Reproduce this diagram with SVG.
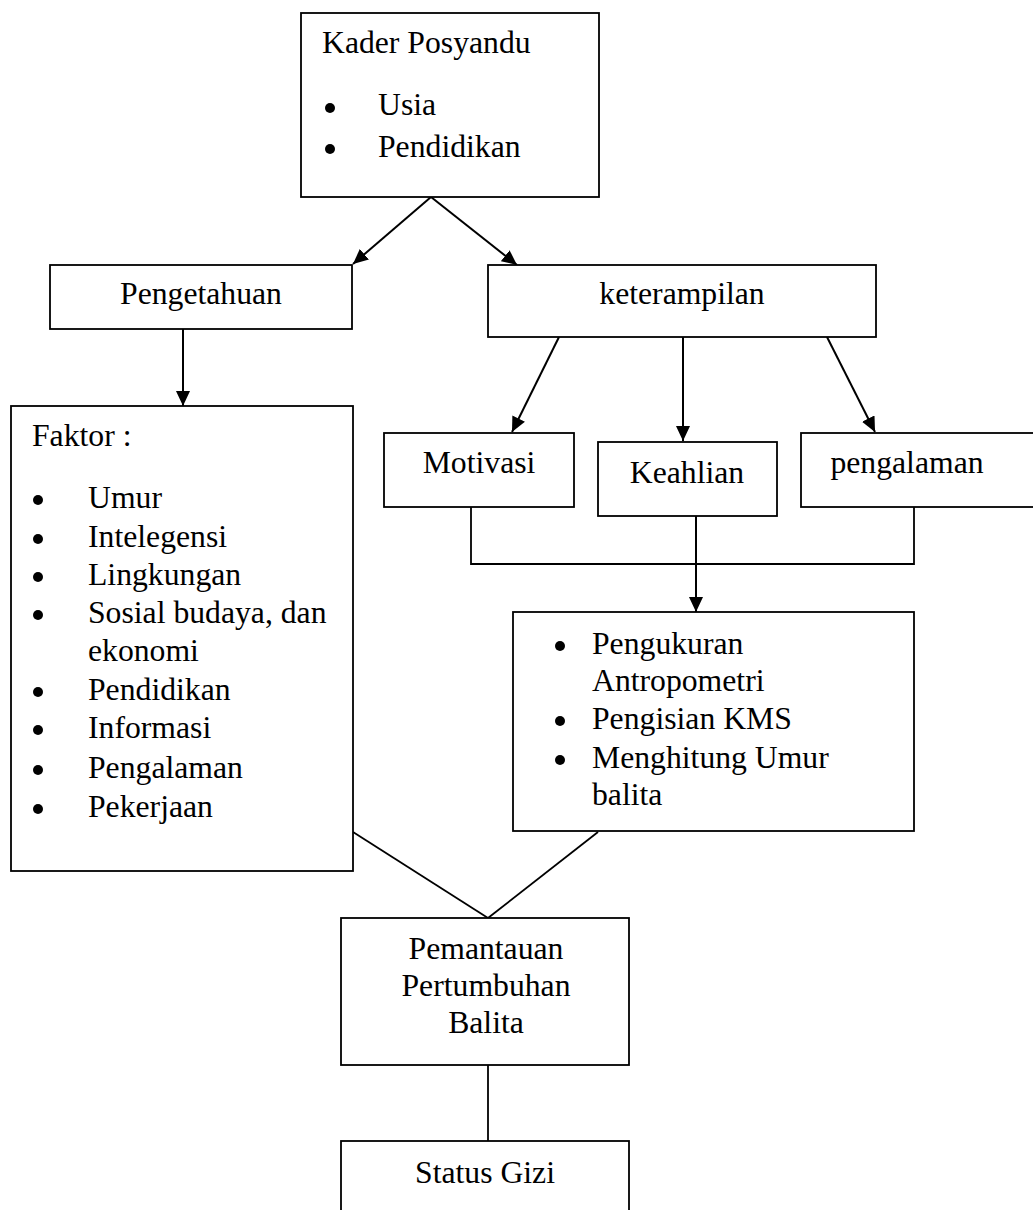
<svg xmlns="http://www.w3.org/2000/svg" width="1033" height="1210" viewBox="0 0 1033 1210">
<style>
.box{fill:#fff;stroke:#000;stroke-width:1.8}
.t{font-family:"Liberation Serif","Times New Roman",serif;font-size:31.7px;fill:#000}
.c{text-anchor:middle}
.bl{fill:#000}
.ln{fill:none;stroke:#000;stroke-width:1.8}
.ar{fill:none;stroke:#000;stroke-width:2;marker-end:url(#ah)}
</style>
<defs>
<marker id="ah" markerUnits="userSpaceOnUse" markerWidth="16" markerHeight="14" refX="15" refY="7" orient="auto">
<path d="M0,0 L15,7 L0,14 Z" fill="#000"/>
</marker>
</defs>
<rect width="1033" height="1210" fill="#fff"/>
<g id="connectors">
<line class="ar" x1="431" y1="197" x2="353" y2="264"/>
<line class="ar" x1="431" y1="197" x2="517" y2="265"/>
<line class="ar" x1="183" y1="329" x2="183" y2="406"/>
<line class="ar" x1="559" y1="337" x2="512" y2="432"/>
<line class="ar" x1="683" y1="337" x2="683" y2="441"/>
<line class="ar" x1="827" y1="337" x2="875" y2="432"/>
<polyline class="ln" points="471,507 471,564 914,564 914,507"/>
<line class="ar" x1="696" y1="516" x2="696" y2="612"/>
<line class="ln" x1="353" y1="832" x2="488" y2="918"/>
<line class="ln" x1="598" y1="832" x2="488" y2="918"/>
<line class="ln" x1="488" y1="1065" x2="488" y2="1141"/>
</g>
<g id="kader">
<rect class="box" x="301" y="13" width="298" height="184"/>
<text class="t" x="322" y="53">Kader Posyandu</text>
<circle class="bl" cx="330" cy="108" r="5"/>
<text class="t" x="378" y="115">Usia</text>
<circle class="bl" cx="330" cy="149" r="5"/>
<text class="t" x="378" y="157">Pendidikan</text>
</g>
<g id="pengetahuan">
<rect class="box" x="50" y="265" width="302" height="64"/>
<text class="t c" x="201" y="304">Pengetahuan</text>
</g>
<g id="keterampilan">
<rect class="box" x="488" y="265" width="388" height="72"/>
<text class="t c" x="682" y="304">keterampilan</text>
</g>
<g id="faktor">
<rect class="box" x="11" y="406" width="342" height="465"/>
<text class="t" x="32" y="446">Faktor :</text>
<circle class="bl" cx="38" cy="500" r="5"/><text class="t" x="88" y="508">Umur</text>
<circle class="bl" cx="38" cy="539" r="5"/><text class="t" x="88" y="547">Intelegensi</text>
<circle class="bl" cx="38" cy="577" r="5"/><text class="t" x="88" y="585">Lingkungan</text>
<circle class="bl" cx="38" cy="615" r="5"/><text class="t" x="88" y="623">Sosial budaya, dan</text>
<text class="t" x="88" y="661">ekonomi</text>
<circle class="bl" cx="38" cy="692" r="5"/><text class="t" x="88" y="700">Pendidikan</text>
<circle class="bl" cx="38" cy="730" r="5"/><text class="t" x="88" y="738">Informasi</text>
<circle class="bl" cx="38" cy="770" r="5"/><text class="t" x="88" y="778">Pengalaman</text>
<circle class="bl" cx="38" cy="809" r="5"/><text class="t" x="88" y="817">Pekerjaan</text>
</g>
<g id="motivasi">
<rect class="box" x="384" y="433" width="190" height="74"/>
<text class="t c" x="479" y="473">Motivasi</text>
</g>
<g id="keahlian">
<rect class="box" x="598" y="442" width="179" height="74"/>
<text class="t c" x="687" y="483">Keahlian</text>
</g>
<g id="pengalaman">
<rect class="box" x="801" y="433" width="240" height="74"/>
<text class="t c" x="907" y="473">pengalaman</text>
</g>
<g id="pengukuran">
<rect class="box" x="513" y="612" width="401" height="219"/>
<circle class="bl" cx="560" cy="646" r="5"/><text class="t" x="592" y="654">Pengukuran</text>
<text class="t" x="592" y="691">Antropometri</text>
<circle class="bl" cx="560" cy="721" r="5"/><text class="t" x="592" y="729">Pengisian KMS</text>
<circle class="bl" cx="560" cy="760" r="5"/><text class="t" x="592" y="768">Menghitung Umur</text>
<text class="t" x="592" y="805">balita</text>
</g>
<g id="pemantauan">
<rect class="box" x="341" y="918" width="288" height="147"/>
<text class="t c" x="486" y="959">Pemantauan</text>
<text class="t c" x="486" y="996">Pertumbuhan</text>
<text class="t c" x="486" y="1033">Balita</text>
</g>
<g id="statusgizi">
<rect class="box" x="341" y="1141" width="288" height="90"/>
<text class="t c" x="485" y="1183">Status Gizi</text>
</g>
</svg>
